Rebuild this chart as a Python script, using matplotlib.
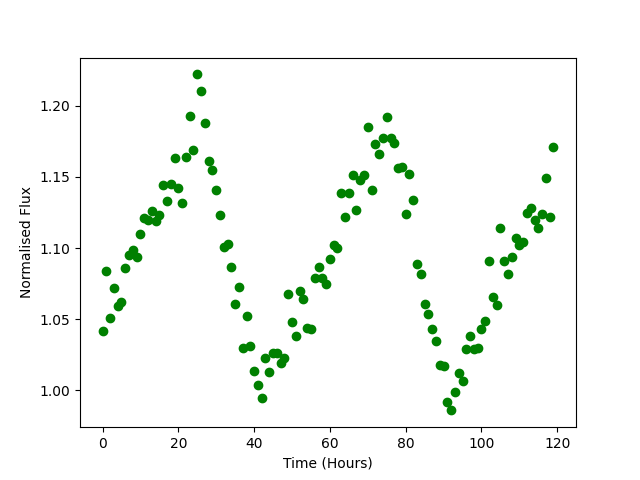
import matplotlib
matplotlib.use("Agg")
import matplotlib.pyplot as plt
import numpy as np

time_hours = list(range(120))
flux = [
    1.042, 1.084, 1.051, 1.072, 1.059, 1.062, 1.086, 1.095, 1.099, 1.094,
    1.110, 1.121, 1.120, 1.126, 1.119, 1.123, 1.144, 1.133, 1.145, 1.163,
    1.142, 1.132, 1.164, 1.193, 1.169, 1.222, 1.210, 1.188, 1.161, 1.155,
    1.141, 1.123, 1.101, 1.103, 1.087, 1.061, 1.073, 1.030, 1.052, 1.031,
    1.014, 1.004, 0.995, 1.023, 1.013, 1.026, 1.026, 1.019, 1.023, 1.068,
    1.048, 1.038, 1.070, 1.064, 1.044, 1.043, 1.079, 1.087, 1.079, 1.075,
    1.092, 1.102, 1.100, 1.139, 1.122, 1.139, 1.151, 1.127, 1.148, 1.151,
    1.185, 1.141, 1.173, 1.166, 1.177, 1.192, 1.177, 1.174, 1.156, 1.157,
    1.124, 1.152, 1.134, 1.089, 1.082, 1.061, 1.054, 1.043, 1.035, 1.018,
    1.017, 0.992, 0.986, 0.999, 1.012, 1.007, 1.029, 1.038, 1.029, 1.030,
    1.043, 1.049, 1.091, 1.066, 1.060, 1.114, 1.091, 1.082, 1.094, 1.107,
    1.102, 1.104, 1.125, 1.128, 1.120, 1.114, 1.124, 1.149, 1.122, 1.171,
]

fig, ax = plt.subplots(figsize=(6.4, 4.8), dpi=100)
ax.plot(time_hours, flux, 'o', color='green')
ax.set_xlabel('Time (Hours)')
ax.set_ylabel('Normalised Flux')
fig.savefig('out.png')
